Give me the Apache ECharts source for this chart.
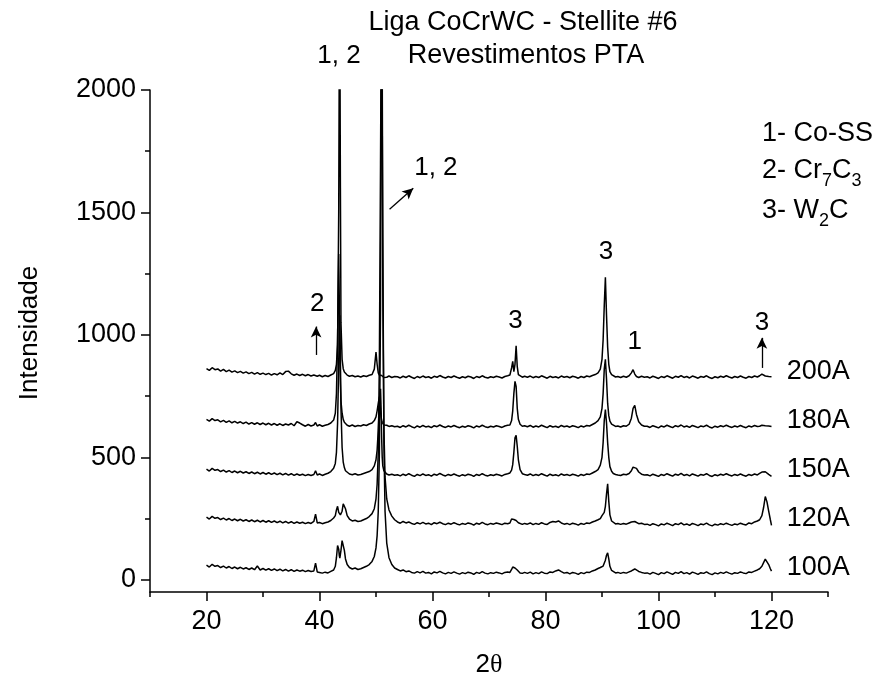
<!DOCTYPE html>
<html><head><meta charset="utf-8">
<script src="https://cdn.jsdelivr.net/npm/echarts@6/dist/echarts.min.js"></script>
<style>html,body{margin:0;padding:0;background:#fff}#c{width:880px;height:679px}</style>
</head><body><div id="c"></div>
<script>
// 2-theta sampling positions (degrees)
const twoTheta = [
 20,20.5,21,21.5,22,22.5,23,23.5,24,24.5,25,25.5,26,26.5,27,27.5,28,28.5,29,29.5,30,30.5,31,31.5,32,32.5,33,33.5,34,34.5,35,35.5,36,36.5,37,37.5,38,38.5,
 39,39.3,39.6,40,40.5,41,41.5,42,42.5,42.8,43,43.2,43.4,43.5,43.6,43.7,43.8,44,44.2,44.4,44.6,44.9,45.3,45.8,46.3,46.8,
 47.3,47.8,48.3,48.8,49.3,49.7,50,50.2,50.4,50.6,50.8,50.9,51,51.1,51.2,51.4,51.6,51.9,52.3,52.8,53.3,
 53.8,54.3,54.8,55.3,55.8,56.3,56.8,57.3,57.8,58.3,58.8,59.3,59.8,60.3,60.8,61.3,61.8,62.3,62.8,63.3,63.8,64.3,64.8,65.3,65.8,66.3,66.8,67.3,67.8,68.3,68.8,69.3,69.8,70.3,70.8,71.3,71.8,72.3,72.8,73.3,
 73.7,74,74.2,74.4,74.6,74.8,75,75.2,75.5,75.9,76.3,
 76.8,77.3,77.8,78.3,78.8,79.3,79.8,80.3,80.8,81.3,81.8,82.3,82.8,83.3,83.8,84.3,84.8,85.3,85.8,86.3,86.8,87.3,87.8,88.3,88.8,89.3,
 89.7,90,90.2,90.4,90.6,90.8,91,91.2,91.4,91.7,92,92.4,92.8,
 93.3,93.8,94.3,94.8,95.2,95.5,95.8,96.1,96.5,97,97.5,
 98,98.5,99,99.5,100,100.5,101,101.5,102,102.5,103,103.5,104,104.5,105,105.5,106,106.5,107,107.5,108,108.5,109,109.5,110,110.5,111,111.5,112,112.5,113,113.5,114,114.5,115,115.5,116,116.5,117,117.5,
 117.9,118.3,118.6,118.9,119.2,119.5,119.8,120
];

const int200A = [
 862,855,866,858,861,852,859,850,856,848,853,846,851,844,849,842,847,840,846,839,844,838,843,836,842,837,845,838,850,852,841,835,840,834,839,833,838,832,
 836,840,831,835,829,834,830,836,842,855,880,960,1500,2150,2300,1600,1050,900,862,848,840,836,831,834,829,832,
 828,833,830,835,838,860,930,880,845,836,832,829,834,828,831,826,830,827,832,826,830,
 829,824,831,826,833,827,822,830,825,832,826,829,823,831,827,834,828,824,830,826,832,827,823,829,825,831,828,822,830,826,833,827,824,829,826,831,828,824,830,833,
 836,865,892,850,880,955,870,838,830,827,831,
 827,832,825,830,826,833,828,823,831,826,829,824,832,827,830,825,831,828,823,830,826,832,829,834,838,845,
 860,900,980,1120,1235,1080,950,880,850,838,832,828,830,
 826,831,827,833,845,858,840,830,826,831,827,
 829,824,831,827,822,830,826,833,828,823,831,827,834,826,830,824,832,828,823,830,827,833,826,822,829,825,831,827,833,828,824,830,826,832,827,823,830,826,832,828,
 833,840,838,832,828,830,826,829
];
const int180A = [
 655,648,658,650,653,645,651,643,649,641,647,640,645,638,644,636,642,635,641,634,640,633,639,632,638,631,637,630,636,632,638,629,645,640,633,627,634,628,
 632,642,628,633,627,631,634,640,652,680,760,980,1330,1150,920,800,730,680,655,643,636,631,627,632,626,630,
 628,633,630,636,640,650,665,690,720,748,690,665,652,643,637,632,628,631,626,629,625,
 627,622,629,624,631,625,620,628,623,630,624,627,621,629,625,632,626,622,628,624,630,625,621,627,623,629,626,620,628,624,631,625,622,627,624,629,626,622,628,631,
 632,650,690,760,810,790,700,655,635,627,629,
 625,630,623,628,624,631,626,621,629,624,627,622,630,625,628,623,629,626,621,628,624,630,628,634,640,650,
 665,700,760,860,900,820,720,670,648,636,630,626,628,
 624,629,627,635,660,700,712,675,645,632,627,
 627,622,629,625,620,628,624,631,626,621,629,625,632,624,628,622,630,626,621,628,625,631,624,620,627,623,629,625,631,626,622,628,624,630,625,621,628,624,630,626,
 627,631,625,629,624,628,623,626
];
const int150A = [
 452,444,455,447,450,442,448,440,446,438,444,437,443,436,441,434,440,433,439,432,438,431,437,430,436,429,435,428,434,427,433,426,432,427,431,425,430,426,
 430,445,428,432,426,431,435,442,455,475,520,640,880,1050,1080,900,700,540,480,458,445,437,432,429,433,428,
 430,434,438,442,450,465,490,530,610,720,780,700,580,500,465,445,437,432,428,431,427,
 429,424,431,426,433,427,422,430,425,432,426,429,423,431,427,434,428,424,430,426,432,427,423,429,425,431,428,422,430,426,433,427,424,429,426,431,428,424,430,433,
 436,448,470,520,580,590,545,490,450,433,430,
 427,432,425,430,426,433,428,423,431,426,429,424,432,427,430,425,431,428,423,430,426,432,430,436,442,450,
 468,500,560,650,695,640,560,500,462,443,434,430,428,
 426,431,429,434,445,460,468,455,440,431,428,
 429,424,431,427,422,430,426,433,428,423,431,427,434,426,430,424,432,428,423,430,427,433,426,422,429,425,431,427,433,428,424,430,426,432,427,423,430,426,432,428,
 434,440,445,441,436,430,426,422
];
const int120A = [
 256,248,259,251,254,246,252,244,250,242,248,241,247,240,245,238,244,237,243,236,242,235,241,234,240,233,239,232,238,231,237,230,236,231,235,229,234,230,
 238,268,232,234,229,233,236,242,252,262,285,300,275,268,272,265,262,280,310,318,290,262,248,240,243,238,
 240,245,250,258,270,290,330,390,520,900,1700,2150,2300,1900,1200,620,420,330,285,260,245,
 236,231,238,232,236,230,226,233,228,234,228,231,225,233,229,235,229,225,231,227,233,228,224,230,226,232,229,223,231,227,234,228,225,230,227,232,229,225,231,229,
 232,248,254,246,250,242,238,233,229,226,230,
 227,232,225,230,226,233,228,226,234,238,236,240,232,227,230,225,231,228,223,230,226,232,230,236,240,245,
 250,262,265,275,300,350,392,320,265,240,232,228,230,
 226,230,227,232,236,240,238,234,229,231,226,
 227,222,229,225,220,228,224,231,226,221,229,225,232,224,228,222,230,226,221,228,225,231,224,220,227,223,229,225,231,226,222,228,225,231,227,224,232,229,236,240,
 245,262,295,340,318,280,245,222
];
const int100A = [
 60,52,63,55,58,50,56,48,54,46,52,45,51,44,49,42,48,41,56,40,46,39,45,38,44,37,43,36,42,35,41,34,40,35,39,33,38,34,
 36,68,32,30,27,31,28,34,40,55,90,140,125,100,88,95,120,160,160,120,85,62,50,44,48,42,
 45,50,55,62,75,95,130,180,280,520,1100,1900,2250,2100,1400,560,280,150,90,62,48,
 42,36,40,33,36,30,27,33,28,34,27,30,24,32,28,34,28,24,30,26,32,27,23,29,25,31,28,22,30,26,33,27,24,29,26,31,28,24,30,32,
 30,42,52,55,48,50,40,34,28,26,30,
 26,31,24,29,25,32,27,25,32,30,36,40,33,27,30,24,30,27,22,29,25,31,30,36,40,46,
 50,58,56,62,80,100,110,85,55,38,32,28,30,
 26,30,27,32,36,40,44,40,34,30,27,
 28,23,30,26,21,29,25,32,27,22,30,26,33,25,29,23,31,27,22,29,26,32,25,21,28,24,30,26,32,27,23,29,26,32,28,25,32,30,35,40,
 45,55,70,84,78,62,45,35
];

const sampleNames = ['100A','120A','150A','180A','200A'];
const sampleLevels = [50, 250, 452, 650, 850];   // where each trace's name sits
const xTickLabels = [20, 40, 60, 80, 100, 120];
const yTickLabels = [0, 500, 1000, 1500, 2000];
const phaseLegend = ['1- Co-SS', '2- Cr{s|7}C{s|3}', '3- W{s|2}C'];
const peakNotes = [ // text, 2theta, intensity
 ['2', 39.6, 1127], ['1, 2', 60.6, 1682], ['3', 74.7, 1057], ['3', 90.7, 1340], ['1', 95.8, 971], ['3', 118.3, 1049]
];
const arrowsData = [
 [[39.4, 918], [39.4, 1034]],
 [[118.3, 865], [118.3, 988]],
 [[52.4, 1513], [56.6, 1599]]
];

const traces = [int100A, int120A, int150A, int180A, int200A];
traces.forEach((t, k) => { if (t.length !== twoTheta.length) throw new Error('length mismatch ' + sampleNames[k] + ' ' + t.length + ' vs ' + twoTheta.length); });

const FONT = "'Liberation Sans', Arial, sans-serif";
const BLACK = '#000';
const chart = echarts.init(document.getElementById('c'), null, {renderer: 'canvas'});

const X0 = 150, X1 = 828, Y0 = 90, Y1 = 592;
const xMin = 10, xMax = 130, yMin = -50, yMax = 2000;
const pxPerX = (X1 - X0) / (xMax - xMin);
const pxPerY = (Y1 - Y0) / (yMax - yMin);
const xT0 = xTickLabels[0], xT1 = xTickLabels[xTickLabels.length - 1];
const yT0 = yTickLabels[0], yT1 = yTickLabels[yTickLabels.length - 1];
const g2left = X0 + (xT0 - xMin) * pxPerX, g2right = 880 - (X0 + (xT1 - xMin) * pxPerX);
const g2bottom = 679 - (Y1 - (yT0 - yMin) * pxPerY);

const series = traces.map((t, k) => ({
  type: 'line', name: sampleNames[k], xAxisIndex: 0, yAxisIndex: 0,
  data: twoTheta.map((x, i) => [x, t[i]]),
  showSymbol: false, symbol: 'none', clip: true, silent: true,
  lineStyle: {color: BLACK, width: 1.5}, z: 2
}));
series[4].markLine = {
  silent: true, symbol: ['none', 'arrow'], symbolSize: [8, 11], label: {show: false},
  lineStyle: {color: BLACK, width: 1.3, type: 'solid'},
  data: arrowsData.map(a => [{coord: a[0]}, {coord: a[1]}]),
  animation: false
};

chart.setOption({
  animation: false,
  backgroundColor: '#fff',
  grid: [
    {left: X0, right: 880 - X1, top: Y0, bottom: 679 - Y1, outerBoundsMode: 'none', containLabel: false},
    {left: g2left, right: g2right, top: Y0, bottom: g2bottom, outerBoundsMode: 'none', containLabel: false}
  ],
  xAxis: [
    {type: 'value', gridIndex: 0, min: xMin, max: xMax, interval: 10,
     axisLine: {show: true, onZero: false, lineStyle: {color: BLACK, width: 1.5}},
     axisTick: {show: true, inside: false, length: 5, lineStyle: {color: BLACK, width: 1.5}},
     axisLabel: {show: false}, splitLine: {show: false}},
    {type: 'value', gridIndex: 1, min: xT0, max: xT1, interval: xTickLabels[1] - xTickLabels[0],
     offset: g2bottom - (679 - Y1),
     axisLine: {show: false, onZero: false},
     axisTick: {show: true, inside: false, length: 9, lineStyle: {color: BLACK, width: 1.5}},
     axisLabel: {show: true, color: BLACK, fontFamily: FONT, fontSize: 27, margin: 16,
                 formatter: v => String(v)},
     splitLine: {show: false}}
  ],
  yAxis: [
    {type: 'value', gridIndex: 0, min: yMin, max: yMax,
     axisLine: {show: true, onZero: false, lineStyle: {color: BLACK, width: 1.5}},
     axisTick: {show: false}, axisLabel: {show: false}, splitLine: {show: false}},
    {type: 'value', gridIndex: 1, min: yT0, max: yT1, interval: yTickLabels[1] - yTickLabels[0],
     offset: g2left - X0,
     axisLine: {show: false, onZero: false},
     axisTick: {show: true, inside: false, length: 9, lineStyle: {color: BLACK, width: 1.5}},
     minorTick: {show: true, splitNumber: 2, length: 5, lineStyle: {color: BLACK, width: 1.5}},
     axisLabel: {show: true, color: BLACK, fontFamily: FONT, fontSize: 27, margin: 14,
                 formatter: v => String(v)},
     splitLine: {show: false}, minorSplitLine: {show: false}}
  ],
  series: series
});

function txt(text, x, y, size, align, extra) {
  return Object.assign({
    type: 'text', x: x, y: y, z: 10, silent: true,
    style: Object.assign({text: text, fill: BLACK, fontSize: size, fontFamily: FONT,
      align: align || 'center', verticalAlign: 'middle',
      textAlign: align || 'center', textVerticalAlign: 'middle'}, (extra && extra.style) || {})
  }, extra && extra.el || {});
}

const toPx = (x, y) => chart.convertToPixel({xAxisIndex: 0, yAxisIndex: 0}, [x, y]);
const graphics = [];
graphics.push(txt('Liga CoCrWC - Stellite #6', 523, 23, 27));
graphics.push(txt('Revestimentos PTA', 526, 56, 27));
graphics.push(txt('1, 2', 339, 56, 26));
graphics.push(txt('Intensidade', 30, 333, 26, 'center', {el: {rotation: Math.PI / 2}}));
graphics.push(txt('2{t|θ}', X0 + (X1 - X0) / 2, 665, 26, 'center', {style: {rich: {t: {fontFamily: "'Liberation Serif', 'DejaVu Serif', serif", fontSize: 26}}}}));
peakNotes.forEach(n => { const p = toPx(n[1], n[2]); graphics.push(txt(n[0], p[0], p[1], 26)); });
sampleNames.forEach((nm, k) => { const p = toPx(122.7, sampleLevels[k]); graphics.push(txt(nm, p[0], p[1], 27, 'left')); });
const subRich = {s: {fontSize: 18, fontFamily: FONT, fill: BLACK, padding: [15, 0, 0, 0], lineHeight: 18, verticalAlign: 'top'}};
[134, 171, 211].forEach((yy, k) => {
  graphics.push(txt(phaseLegend[k], 762, yy, 27, 'left', {style: {rich: subRich}}));
});
chart.setOption({graphic: graphics});
</script></body></html>
